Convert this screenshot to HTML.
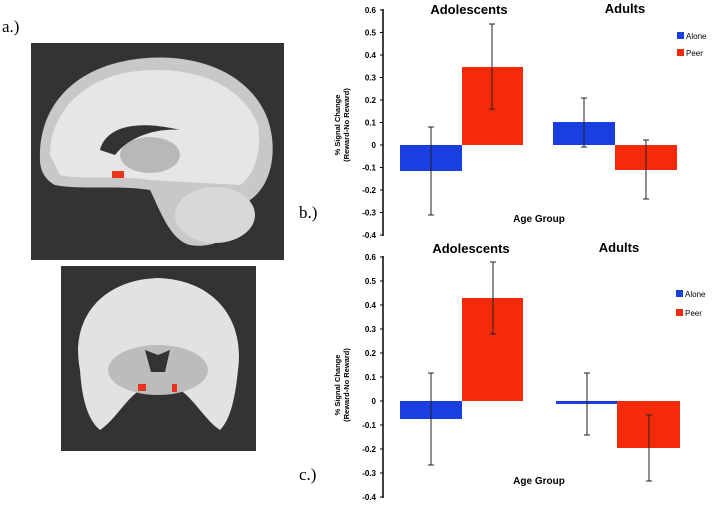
<!DOCTYPE html>
<html><head><style>body{margin:0;background:#fff}svg{display:block}</style></head><body>
<svg width="714" height="506" viewBox="0 0 714 506" xmlns="http://www.w3.org/2000/svg" font-family="Liberation Sans, sans-serif">
<text x="2" y="32" font-family="Liberation Serif, serif" font-size="17">a.)</text>
<!-- sagittal -->
<rect x="31" y="43" width="253" height="217" fill="#333"/>
<path d="M40 160 C38 110 70 70 130 60 C190 50 250 70 268 120 C278 150 272 185 250 200 C245 230 220 250 190 245 C170 240 160 210 150 190 C120 185 80 190 55 185 C45 180 40 170 40 160Z" fill="#c8c8c8"/>
<path d="M50 155 C50 115 80 80 130 72 C185 64 240 80 258 125 C262 150 255 175 240 185 L150 180 C120 175 80 180 60 175Z" fill="#e6e6e6"/>
<path d="M100 150 C105 130 130 118 180 130 C160 128 130 135 115 155Z" fill="#333"/>
<ellipse cx="150" cy="155" rx="30" ry="18" fill="#b8b8b8"/>
<ellipse cx="215" cy="215" rx="40" ry="28" fill="#d8d8d8"/>
<rect x="112" y="171" width="12" height="7" fill="#e8341c"/>
<!-- coronal -->
<rect x="61" y="266" width="195" height="185" fill="#333"/>
<path d="M80 370 C70 320 100 280 158 278 C215 280 245 320 238 370 C235 400 230 420 220 430 C205 420 195 400 180 390 L140 390 C125 400 115 420 100 430 C88 420 82 400 80 370Z" fill="#e2e2e2"/>
<ellipse cx="158" cy="370" rx="50" ry="25" fill="#bcbcbc"/>
<path d="M145 350 L158 355 L170 350 L165 372 L151 372Z" fill="#333"/>
<rect x="138" y="384" width="8" height="7" fill="#e8341c"/>
<rect x="172" y="384" width="5" height="8" fill="#e8341c"/>

<g id="chartB">
<text x="299" y="218" font-family="Liberation Serif, serif" font-size="17">b.)</text>
<line x1="383" y1="9" x2="383" y2="236" stroke="#000" stroke-width="1.5"/>
<g font-size="8" font-weight="bold" text-anchor="end">
<text x="376" y="13">0.6</text><text x="376" y="35.5">0.5</text><text x="376" y="58">0.4</text><text x="376" y="80.5">0.3</text><text x="376" y="103">0.2</text><text x="376" y="125.5">0.1</text><text x="376" y="148">0</text><text x="376" y="170.5">-0.1</text><text x="376" y="193">-0.2</text><text x="376" y="215.5">-0.3</text><text x="376" y="238">-0.4</text>
</g>
<g stroke="#000"><line x1="380" y1="10" x2="383" y2="10"/><line x1="380" y1="32.5" x2="383" y2="32.5"/><line x1="380" y1="55" x2="383" y2="55"/><line x1="380" y1="77.5" x2="383" y2="77.5"/><line x1="380" y1="100" x2="383" y2="100"/><line x1="380" y1="122.5" x2="383" y2="122.5"/><line x1="380" y1="145" x2="383" y2="145"/><line x1="380" y1="167.5" x2="383" y2="167.5"/><line x1="380" y1="190" x2="383" y2="190"/><line x1="380" y1="212.5" x2="383" y2="212.5"/><line x1="380" y1="235" x2="383" y2="235"/></g>
<text transform="translate(340,125) rotate(-90)" font-size="7.5" font-weight="bold" text-anchor="middle"><tspan x="0" y="0">% Signal Change</tspan><tspan x="0" y="9">(Reward-No Reward)</tspan></text>
<rect x="400" y="145" width="62" height="26" fill="#1a3fe0"/>
<rect x="462" y="67" width="61" height="78" fill="#f52a0a"/>
<rect x="553" y="122" width="62" height="23" fill="#1a3fe0"/>
<rect x="615" y="145" width="62" height="25" fill="#f52a0a"/>
<g stroke="#222" stroke-width="1">
<line x1="431" y1="127" x2="431" y2="215"/><line x1="428" y1="127" x2="434" y2="127"/><line x1="428" y1="215" x2="434" y2="215"/>
<line x1="492" y1="109" x2="492" y2="24"/><line x1="489" y1="109" x2="495" y2="109"/><line x1="489" y1="24" x2="495" y2="24"/>
<line x1="584" y1="147" x2="584" y2="98"/><line x1="581" y1="147" x2="587" y2="147"/><line x1="581" y1="98" x2="587" y2="98"/>
<line x1="646" y1="140" x2="646" y2="199"/><line x1="643" y1="140" x2="649" y2="140"/><line x1="643" y1="199" x2="649" y2="199"/>
</g>
<text x="469" y="14" font-size="13" font-weight="bold" text-anchor="middle">Adolescents</text>
<text x="625" y="13" font-size="13" font-weight="bold" text-anchor="middle">Adults</text>
<text x="539" y="222" font-size="10" font-weight="bold" text-anchor="middle">Age Group</text>
<rect x="677" y="32" width="7" height="7" fill="#1a3fe0"/><text x="686" y="39" font-size="8">Alone</text>
<rect x="677" y="49" width="7" height="7" fill="#f52a0a"/><text x="686" y="56" font-size="8">Peer</text>
</g>

<g id="chartC">
<text x="299" y="480" font-family="Liberation Serif, serif" font-size="17">c.)</text>
<line x1="383" y1="256" x2="383" y2="498" stroke="#000" stroke-width="1.5"/>
<g font-size="8" font-weight="bold" text-anchor="end">
<text x="376" y="260">0.6</text><text x="376" y="284">0.5</text><text x="376" y="308">0.4</text><text x="376" y="332">0.3</text><text x="376" y="356">0.2</text><text x="376" y="380">0.1</text><text x="376" y="404">0</text><text x="376" y="428">-0.1</text><text x="376" y="452">-0.2</text><text x="376" y="476">-0.3</text><text x="376" y="500">-0.4</text>
</g>
<g stroke="#000"><line x1="380" y1="257" x2="383" y2="257"/><line x1="380" y1="281" x2="383" y2="281"/><line x1="380" y1="305" x2="383" y2="305"/><line x1="380" y1="329" x2="383" y2="329"/><line x1="380" y1="353" x2="383" y2="353"/><line x1="380" y1="377" x2="383" y2="377"/><line x1="380" y1="401" x2="383" y2="401"/><line x1="380" y1="425" x2="383" y2="425"/><line x1="380" y1="449" x2="383" y2="449"/><line x1="380" y1="473" x2="383" y2="473"/><line x1="380" y1="497" x2="383" y2="497"/></g>
<text transform="translate(340,385) rotate(-90)" font-size="7.5" font-weight="bold" text-anchor="middle"><tspan x="0" y="0">% Signal Change</tspan><tspan x="0" y="9">(Reward-No Reward)</tspan></text>
<rect x="400" y="401" width="62" height="18" fill="#1a3fe0"/>
<rect x="462" y="298" width="61" height="103" fill="#f52a0a"/>
<rect x="556" y="401" width="61" height="3" fill="#1a3fe0"/>
<rect x="617" y="401" width="63" height="47" fill="#f52a0a"/>
<g stroke="#222" stroke-width="1">
<line x1="431" y1="373" x2="431" y2="465"/><line x1="428" y1="373" x2="434" y2="373"/><line x1="428" y1="465" x2="434" y2="465"/>
<line x1="493" y1="334" x2="493" y2="262"/><line x1="490" y1="334" x2="496" y2="334"/><line x1="490" y1="262" x2="496" y2="262"/>
<line x1="587" y1="373" x2="587" y2="435"/><line x1="584" y1="373" x2="590" y2="373"/><line x1="584" y1="435" x2="590" y2="435"/>
<line x1="649" y1="415" x2="649" y2="481"/><line x1="646" y1="415" x2="652" y2="415"/><line x1="646" y1="481" x2="652" y2="481"/>
</g>
<text x="471" y="253" font-size="13" font-weight="bold" text-anchor="middle">Adolescents</text>
<text x="619" y="252" font-size="13" font-weight="bold" text-anchor="middle">Adults</text>
<text x="539" y="484" font-size="10" font-weight="bold" text-anchor="middle">Age Group</text>
<rect x="676" y="290" width="7" height="7" fill="#1a3fe0"/><text x="685" y="297" font-size="8">Alone</text>
<rect x="676" y="309" width="7" height="7" fill="#f52a0a"/><text x="685" y="316" font-size="8">Peer</text>
</g>
</svg>
</body></html>
